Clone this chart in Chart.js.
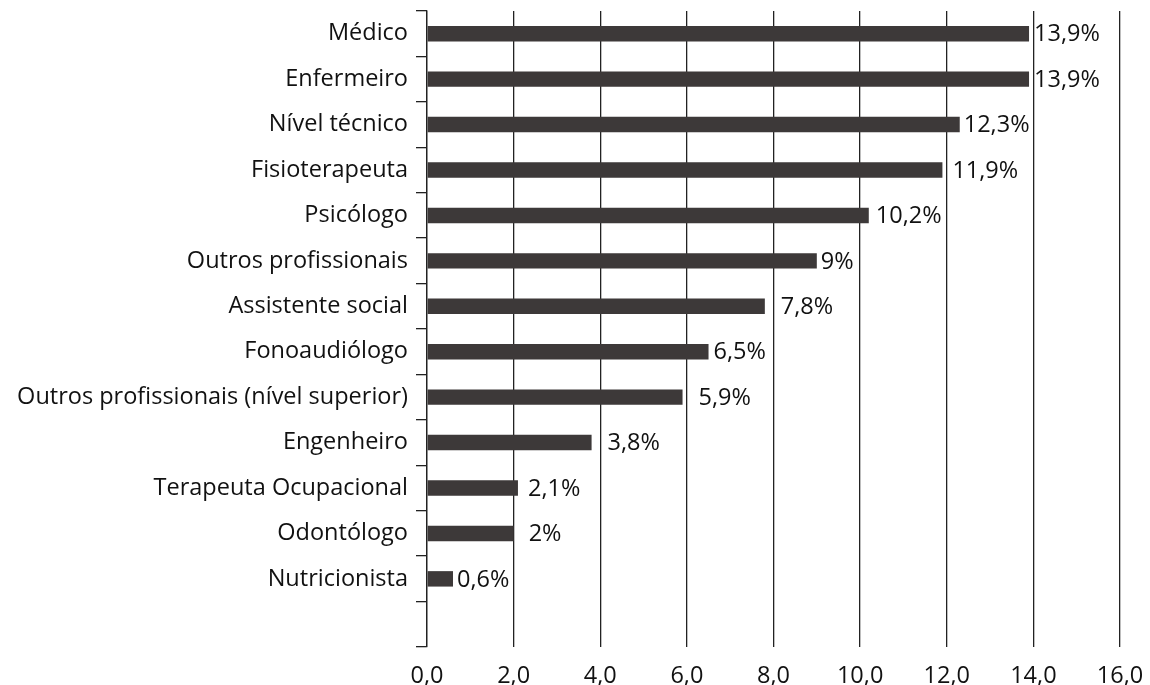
<!DOCTYPE html>
<html>
<head>
<meta charset="utf-8">
<script src="https://cdn.jsdelivr.net/npm/chart.js@4"></script>
<style>
  html, body { margin: 0; padding: 0; background: #ffffff; }
  #wrap { width: 1150px; height: 685px; position: relative; }
</style>
</head>
<body>
<div id="wrap"><canvas id="c" width="1150" height="685"></canvas></div>
<script>
// ---- data ----
const categories = [
  'Médico', 'Enfermeiro', 'Nível técnico', 'Fisioterapeuta', 'Psicólogo',
  'Outros profissionais', 'Assistente social', 'Fonoaudiólogo',
  'Outros profissionais (nível superior)', 'Engenheiro',
  'Terapeuta Ocupacional', 'Odontólogo', 'Nutricionista', ''
];
const values = [13.9, 13.9, 12.3, 11.9, 10.2, 9, 7.8, 6.5, 5.9, 3.8, 2.1, 2, 0.6, null];
const valueLabels = ['13,9%', '13,9%', '12,3%', '11,9%', '10,2%', '9%', '7,8%', '6,5%', '5,9%', '3,8%', '2,1%', '2%', '0,6%', ''];
const xTickValues = [0, 2, 4, 6, 8, 10, 12, 14, 16];
const xTickLabels = ['0,0', '2,0', '4,0', '6,0', '8,0', '10,0', '12,0', '14,0', '16,0'];
// style: gap between bar end and its label (px)
const labelGaps = [5, 5, 4, 10, 7, 4, 16, 5, 16, 16, 10, 15, 4, 0];

const FONT = '"Open Sans", "Noto Sans", sans-serif';
const FSIZE = 23.5;

const valueLabelPlugin = {
  id: 'valueLabels',
  afterDatasetsDraw(chart) {
    const ctx = chart.ctx;
    const meta = chart.getDatasetMeta(0);
    ctx.save();
    ctx.font = FSIZE + 'px ' + FONT;
    ctx.fillStyle = '#111111';
    ctx.textAlign = 'left';
    ctx.textBaseline = 'middle';
    meta.data.forEach((bar, i) => {
      if (values[i] == null) return;
      ctx.fillText(valueLabels[i], bar.x + labelGaps[i], bar.y + 1);
    });
    ctx.restore();
  }
};

new Chart(document.getElementById('c'), {
  type: 'bar',
  data: {
    labels: categories,
    datasets: [{
      data: values,
      backgroundColor: '#3d3939',
      borderWidth: 0,
      barPercentage: 0.68,
      categoryPercentage: 0.5
    }]
  },
  options: {
    indexAxis: 'y',
    responsive: false,
    animation: false,
    devicePixelRatio: 1,
    layout: { padding: { top: 11, right: 30, left: 0, bottom: 0 } },
    plugins: {
      legend: { display: false },
      tooltip: { enabled: false }
    },
    scales: {
      x: {
        min: 0,
        max: 16,
        afterBuildTicks(scale) {
          scale.ticks = xTickValues.map(v => ({ value: v }));
        },
        afterFit(scale) {
          scale.height = 38;
          scale.paddingLeft = 0;
          scale.paddingRight = 0;
        },
        ticks: {
          callback: (v) => xTickLabels[xTickValues.indexOf(v)],
          font: { family: FONT, size: FSIZE },
          color: '#111111',
          padding: 15,
          maxRotation: 0,
          autoSkip: false
        },
        grid: {
          color: '#222222',
          lineWidth: 1.3,
          drawTicks: false
        },
        border: { display: false }
      },
      y: {
        afterFit(scale) {
          scale.width = 427;
          scale.paddingTop = 0;
          scale.paddingBottom = 0;
        },
        ticks: {
          font: { family: FONT, size: FSIZE },
          color: '#111111',
          padding: 8,
          autoSkip: false
        },
        grid: {
          offset: true,
          drawOnChartArea: false,
          drawTicks: true,
          tickLength: 11,
          color: '#222222',
          lineWidth: 1.3
        },
        border: { display: true, color: '#222222', width: 1.3 }
      }
    }
  },
  plugins: [valueLabelPlugin]
});
</script>
</body>
</html>
